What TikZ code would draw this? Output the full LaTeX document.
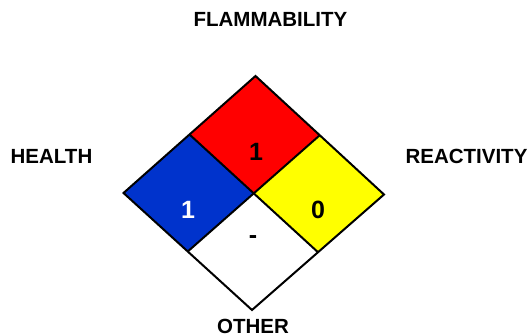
\documentclass[tikz,border=0pt]{standalone}
\usepackage{fontspec}
\setmainfont{Liberation Sans}
\usetikzlibrary{calc}
\definecolor{nfpablue}{RGB}{0,51,204}
\definecolor{nfpared}{RGB}{255,0,0}
\definecolor{nfpayellow}{RGB}{255,255,0}
\tikzset{
  lbl/.style={font=\bfseries\fontsize{20.5}{24}\selectfont, inner sep=0pt, anchor=center},
  num/.style={font=\bfseries\fontsize{25}{28}\selectfont, inner sep=0pt, anchor=center},
  quad/.style={draw=black, line width=2pt, line join=miter}
}
\begin{document}
\begin{tikzpicture}[x=1pt,y=-1pt]
\useasboundingbox[fill=white] (0,0) rectangle (530,336);
% vertices
\coordinate (T) at (255.5,76);
\coordinate (L) at (123.5,193);
\coordinate (R) at (384,194.5);
\coordinate (B) at (252,310);
\coordinate (C) at (254,193.5);
\coordinate (TL) at ($(T)!0.5!(L)$);
\coordinate (TR) at ($(T)!0.5!(R)$);
\coordinate (BL) at ($(B)!0.5!(L)$);
\coordinate (BR) at ($(B)!0.5!(R)$);
% quadrants
\fill[nfpared] (T) -- (TR) -- (C) -- (TL) -- cycle;
\fill[nfpablue] (TL) -- (C) -- (BL) -- (L) -- cycle;
\fill[nfpayellow] (TR) -- (R) -- (BR) -- (C) -- cycle;
\fill[white] (C) -- (BR) -- (B) -- (BL) -- cycle;
\draw[quad] (TL) -- (BR);
\draw[quad] (TR) -- (BL);
\draw[quad] (T) -- (R) -- (B) -- (L) -- cycle;
% numbers
\node[num] (nf) at (256,152) {1};
\node[num, text=white] (nh) at (188,210) {1};
\node[num] (nr) at (318,210) {0};
\node[num] (no) at (253,240) {-};
% labels
\node[lbl] (flam) at (270.5,19.5) {FLAMMABILITY};
\node[lbl] (health) at (51.5,156.5) {HEALTH};
\node[lbl] (react) at (466.5,156.5) {REACTIVITY};
\node[lbl] (other) at (253,326.5) {OTHER};
\end{tikzpicture}
\end{document}
